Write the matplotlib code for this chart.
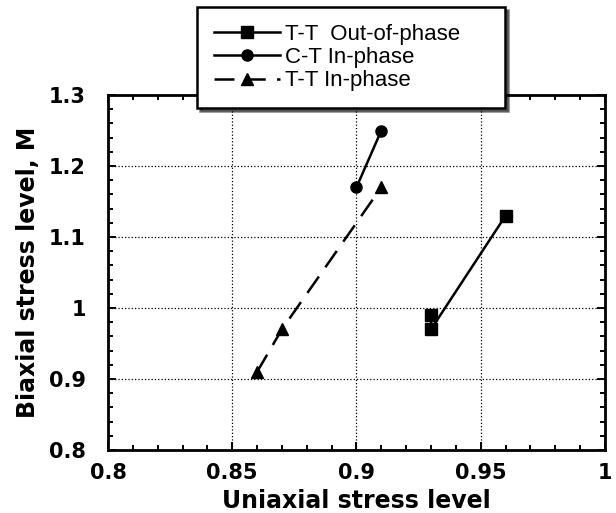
import matplotlib.pyplot as plt
from matplotlib.ticker import MultipleLocator

# data
tt_out_x = [0.93, 0.93, 0.96]
tt_out_y = [0.99, 0.97, 1.13]
ct_in_x = [0.90, 0.91]
ct_in_y = [1.17, 1.25]
tt_in_x = [0.86, 0.87, 0.91]
tt_in_y = [0.91, 0.97, 1.17]

x_ticks = [0.8, 0.85, 0.9, 0.95, 1.0]
x_labels = ['0.8', '0.85', '0.9', '0.95', '1']
y_ticks = [0.8, 0.9, 1.0, 1.1, 1.2, 1.3]
y_labels = ['0.8', '0.9', '1', '1.1', '1.2', '1.3']
names = ['T-T  Out-of-phase', 'C-T In-phase', 'T-T In-phase']

plt.rcParams['font.family'] = ['DejaVu Sans']

fig = plt.figure(figsize=(6.16, 5.13), dpi=100)
ax = fig.add_axes([0.1753, 0.1228, 0.8068, 0.692])

l1, = ax.plot(tt_out_x, tt_out_y, 'k-', marker='s', ms=8, lw=1.8)
l2, = ax.plot(ct_in_x, ct_in_y, 'k-', marker='o', ms=8, lw=1.8)
l3, = ax.plot(tt_in_x, tt_in_y, 'k', ls=(0, (8, 4.5)), marker='^', ms=9, lw=1.8)

ax.set_xlim(0.8, 1.0)
ax.set_ylim(0.8, 1.3)
ax.xaxis.set_minor_locator(MultipleLocator(0.01))
ax.yaxis.set_minor_locator(MultipleLocator(0.02))
ax.set_xticks(x_ticks, x_labels)
ax.set_yticks(y_ticks, y_labels)
ax.tick_params(which='both', direction='in', top=True, right=True, width=1.4)
ax.tick_params(which='major', length=6, labelsize=15)
ax.tick_params(axis='x', which='major', pad=9)
ax.tick_params(axis='y', which='major', pad=16)
ax.tick_params(which='minor', length=3.5)
for lab in ax.get_xticklabels() + ax.get_yticklabels():
    lab.set_fontweight('bold')
for s in ax.spines.values():
    s.set_linewidth(2)
ax.grid(True, which='major', color='k', ls=':', lw=0.9)

ax.set_xlabel('Uniaxial stress level', fontsize=17, fontweight='bold', labelpad=5)
ax.set_ylabel('Biaxial stress level, M', fontsize=17, fontweight='bold', labelpad=6)

leg = fig.legend([l1, l2, l3], names, prop={'family': 'Liberation Sans', 'size': 16},
                 loc='upper left', bbox_to_anchor=(0.320, 0.986, 0.50, 0.0), mode='expand',
                 fancybox=False, shadow={'color': 'black'}, framealpha=1,
                 edgecolor='black', handlelength=3.0, handletextpad=0.2,
                 labelspacing=0.1, borderpad=0.75, borderaxespad=0)
leg.get_frame().set_linewidth(1.8)

fig.savefig('out.png', dpi=100)
